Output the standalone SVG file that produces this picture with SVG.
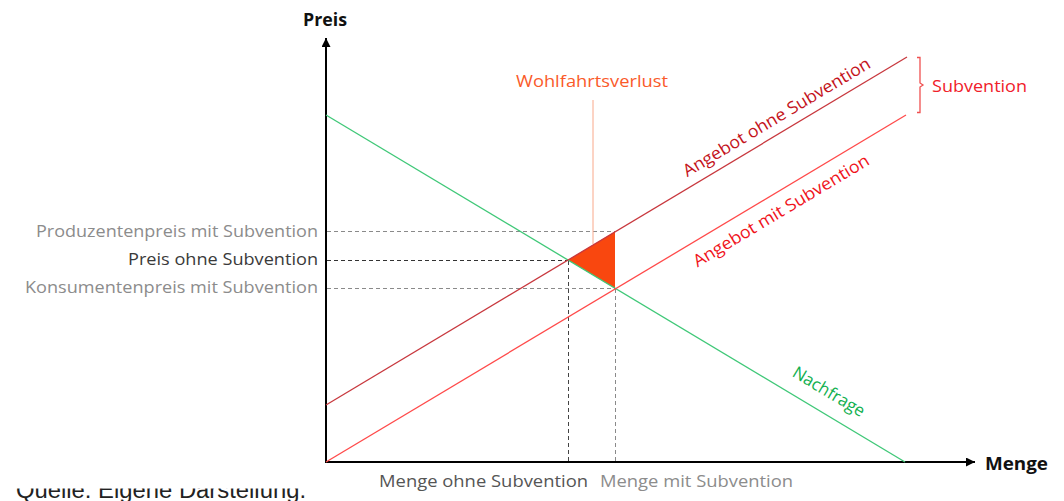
<svg xmlns="http://www.w3.org/2000/svg" width="1064" height="501" viewBox="0 0 1064 501">
<style>
text{font-family:"Open Sans","Noto Sans","Liberation Sans",sans-serif;font-size:17px}
.b{font-weight:bold;fill:#111}
.gr{fill:#8c8c8c}
.dk{fill:#3a3a3a}
.dash{stroke-dasharray:4,3;stroke-width:1;fill:none}
</style>
<defs>
<marker id="ah" viewBox="0 0 10 10" refX="10" refY="5" markerWidth="9" markerHeight="9" markerUnits="userSpaceOnUse" orient="auto"><path d="M0,0 L10,5 L0,10 Z" fill="#000"/></marker>
</defs>
<rect width="1064" height="501" fill="#fff"/>
<text x="16" y="497.5" textLength="290" lengthAdjust="spacingAndGlyphs" style="font-family:'Liberation Sans',sans-serif;font-size:23px;fill:#222">Quelle: Eigene Darstellung.</text>
<rect x="0" y="0" width="330" height="488.5" fill="#fff"/>

<g id="connectors">
<line x1="326" y1="463" x2="326" y2="38" stroke="#000" stroke-width="2" marker-end="url(#ah)"/>
<line x1="325" y1="462" x2="975" y2="462" stroke="#000" stroke-width="2" marker-end="url(#ah)"/>
<line class="dash" x1="327" y1="231.5" x2="615" y2="231.5" stroke="#8a8a8a"/>
<line class="dash" x1="327" y1="260.5" x2="568" y2="260.5" stroke="#333"/>
<line class="dash" x1="327" y1="288.5" x2="615" y2="288.5" stroke="#8a8a8a"/>
<line class="dash" x1="568.5" y1="261" x2="568.5" y2="461" stroke="#444"/>
<line class="dash" x1="615.5" y1="289" x2="615.5" y2="461" stroke="#8a8a8a"/>
<line x1="593" y1="100" x2="593" y2="244" stroke="#f9a88a" stroke-width="1"/>
</g>

<g id="wohlfahrtsverlust">
<polygon points="568,260 615,231.5 615,288.5" fill="#f9470f"/>
<text x="516" y="87" textLength="152" lengthAdjust="spacingAndGlyphs" style="fill:#fa5a2a">Wohlfahrtsverlust</text>
</g>

<g id="nachfrage">
<line x1="326" y1="115" x2="905" y2="462" stroke="#40c878" stroke-width="1.3"/>
<text transform="translate(829,391.5) rotate(30.9)" x="0" y="6" text-anchor="middle" textLength="81" lengthAdjust="spacingAndGlyphs" style="fill:#12b050">Nachfrage</text>
</g>

<g id="angebot-ohne">
<line x1="326" y1="405" x2="907" y2="57" stroke="#c8383e" stroke-width="1.3"/>
<text transform="translate(776.5,117) rotate(-30.9)" x="0" y="6" text-anchor="middle" textLength="215" lengthAdjust="spacingAndGlyphs" style="fill:#c4141c">Angebot ohne Subvention</text>
</g>

<g id="angebot-mit">
<line x1="326" y1="462" x2="906" y2="115" stroke="#ff4a4a" stroke-width="1.3"/>
<text transform="translate(781,210.5) rotate(-30.9)" x="0" y="6" text-anchor="middle" textLength="202" lengthAdjust="spacingAndGlyphs" style="fill:#f0141c">Angebot mit Subvention</text>
</g>

<g id="subvention">
<path d="M917,57.5 H920 V83 L923,85 L920,87 V112.5 H917" fill="none" stroke="#f05050" stroke-width="1.3"/>
<text x="932" y="92" textLength="95" lengthAdjust="spacingAndGlyphs" style="fill:#f0202a">Subvention</text>
</g>

<g id="axis-labels">
<text class="b" x="303" y="26" textLength="44" lengthAdjust="spacingAndGlyphs">Preis</text>
<text class="b" x="985" y="470" textLength="63" lengthAdjust="spacingAndGlyphs">Menge</text>
<text class="gr" x="318" y="237" text-anchor="end" textLength="282" lengthAdjust="spacingAndGlyphs">Produzentenpreis mit Subvention</text>
<text class="dk" x="318" y="265" text-anchor="end" textLength="190" lengthAdjust="spacingAndGlyphs">Preis ohne Subvention</text>
<text class="gr" x="318" y="293" text-anchor="end" textLength="293" lengthAdjust="spacingAndGlyphs">Konsumentenpreis mit Subvention</text>
<text x="379" y="487" textLength="209" lengthAdjust="spacingAndGlyphs" style="fill:#555">Menge ohne Subvention</text>
<text class="gr" x="600" y="487" textLength="193" lengthAdjust="spacingAndGlyphs">Menge mit Subvention</text>
</g>
</svg>
